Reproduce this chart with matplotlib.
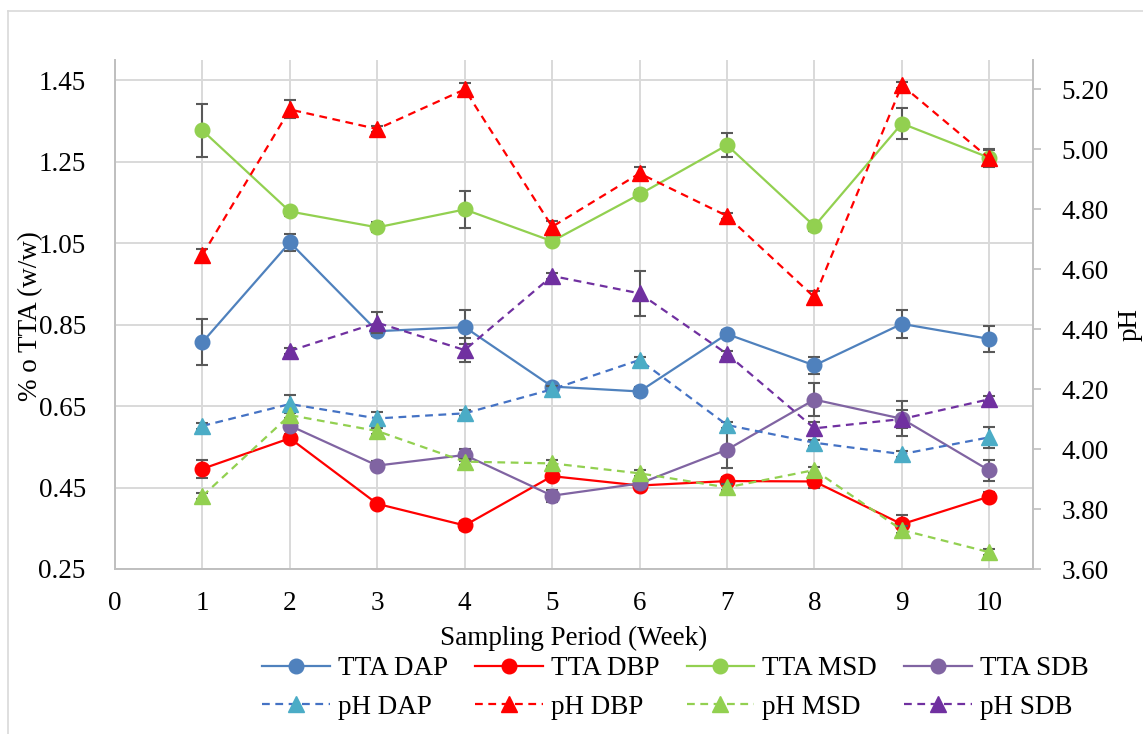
import matplotlib
matplotlib.use("Agg")
import matplotlib.pyplot as plt
import numpy as np
from matplotlib.lines import Line2D

plt.rcParams['font.family'] = ['Liberation Serif', 'DejaVu Serif']

# Sampling weeks
weeks = np.arange(1, 11)

# Titratable acidity, % (w/w)
tta_dap = [0.807, 1.052, 0.834, 0.844, 0.698, 0.686, 0.827, 0.750, 0.852, 0.815]
tta_dbp = [0.496, 0.571, 0.410, 0.357, 0.478, 0.455, 0.466, 0.465, 0.360, 0.428]
tta_msd = [1.327, 1.128, 1.089, 1.133, 1.055, 1.170, 1.291, 1.092, 1.344, 1.260]
tta_sdb = [np.nan, 0.602, 0.504, 0.530, 0.430, 0.460, 0.543, 0.666, 0.619, 0.492]

tta_dap_err = [0.056, 0.020, 0.012, 0.042, 0.010, 0.010, 0.010, 0.021, 0.035, 0.031]
tta_dbp_err = [0.022, 0.010, 0.010, 0.010, 0.010, 0.012, 0.010, 0.017, 0.022, 0.010]
tta_msd_err = [0.066, 0.010, 0.012, 0.046, 0.010, 0.010, 0.029, 0.012, 0.038, 0.020]
tta_sdb_err = [np.nan, 0.010, 0.010, 0.015, 0.015, 0.010, 0.046, 0.041, 0.043, 0.025]

# pH
ph_dap = [4.077, 4.150, 4.102, 4.119, 4.199, 4.297, 4.080, 4.021, 3.983, 4.039]
ph_dbp = [4.647, 5.132, 5.067, 5.199, 4.741, 4.919, 4.777, 4.506, 5.213, 4.969]
ph_msd = [3.843, 4.113, 4.060, 3.958, 3.952, 3.919, 3.872, 3.930, 3.730, 3.656]
ph_sdb = [np.nan, 4.327, 4.421, 4.330, 4.577, 4.519, 4.317, 4.069, 4.100, 4.166]

ph_dap_err = [0.010, 0.030, 0.020, 0.010, 0.010, 0.010, 0.010, 0.010, 0.010, 0.035]
ph_dbp_err = [0.020, 0.030, 0.010, 0.020, 0.020, 0.020, 0.010, 0.020, 0.010, 0.030]
ph_msd_err = [0.010, 0.010, 0.010, 0.010, 0.010, 0.010, 0.010, 0.010, 0.015, 0.010]
ph_sdb_err = [np.nan, 0.010, 0.035, 0.040, 0.010, 0.076, 0.010, 0.020, 0.030, 0.010]

left_ticks = [0.25, 0.45, 0.65, 0.85, 1.05, 1.25, 1.45]
right_ticks = [3.6, 3.8, 4.0, 4.2, 4.4, 4.6, 4.8, 5.0, 5.2]
x_ticks = list(range(0, 11))

W, H = 1143, 734
fig = plt.figure(figsize=(W / 100, H / 100), dpi=100)

# light outer frame of the chart area
fig.add_artist(Line2D([8 / W, 1.0], [1 - 11 / H, 1 - 11 / H], color='#D9D9D9', lw=1.2))
fig.add_artist(Line2D([8 / W, 8 / W], [0.0, 1 - 11 / H], color='#D9D9D9', lw=1.2))

rect = [115 / W, 1 - 569 / H, (1033 - 115) / W, (569 - 60) / H]
ax = fig.add_axes(rect)
ax2 = ax.twinx()

FS = 19.5
grid_c = '#D9D9D9'
spine_c = '#BFBFBF'
err_c = '#595959'

ax.set_xlim(0, 10.5)
ax.set_ylim(0.25, 1.5)
ax2.set_ylim(3.6, 5.297)
ax.set_xticks(x_ticks)
ax.set_yticks(left_ticks)
ax.set_yticklabels([f"{t:.2f}" for t in left_ticks])
ax2.set_yticks(right_ticks)
ax2.set_yticklabels([f"{t:.2f}" for t in right_ticks])

ax.grid(True, color=grid_c, lw=1.4)
ax.set_axisbelow(True)
for s in ['top', 'right']:
    ax.spines[s].set_visible(False)
for s in ['left', 'bottom']:
    ax.spines[s].set_color(spine_c)
    ax.spines[s].set_linewidth(1.4)
for s in ['top', 'left', 'bottom']:
    ax2.spines[s].set_visible(False)
ax2.spines['right'].set_color(spine_c)
ax2.spines['right'].set_linewidth(1.4)

ax.tick_params(axis='y', length=0, pad=21, labelsize=FS)
ax.tick_params(axis='x', length=0, pad=16, labelsize=FS)
ax2.tick_params(axis='y', length=5.5, width=1.2, color=spine_c, pad=15, labelsize=FS)

cap = 4.3
elw = 1.5
lw = 1.6
dash = (0, (3.5, 2.5))
ms_c = 10.5
ms_t = 11.5

tta_series = [
    ("TTA DAP", tta_dap, tta_dap_err, '#4F81BD', '#4F81BD'),
    ("TTA DBP", tta_dbp, tta_dbp_err, '#FF0000', '#FF0000'),
    ("TTA MSD", tta_msd, tta_msd_err, '#92D050', '#92D050'),
    ("TTA SDB", tta_sdb, tta_sdb_err, '#8064A2', '#8064A2'),
]
ph_series = [
    ("pH DAP", ph_dap, ph_dap_err, '#4472C4', '#4BACC6'),
    ("pH DBP", ph_dbp, ph_dbp_err, '#FF0000', '#FF0000'),
    ("pH MSD", ph_msd, ph_msd_err, '#92D050', '#92D050'),
    ("pH SDB", ph_sdb, ph_sdb_err, '#7030A0', '#7030A0'),
]

handles = {}
for name, vals, err, lc, mc in tta_series:
    v = np.array(vals, dtype=float)
    ax.errorbar(weeks, v, yerr=err, fmt='none', ecolor=err_c, elinewidth=elw,
                capsize=cap, capthick=elw, zorder=3)
    mask = ~np.isnan(v)
    h, = ax.plot(weeks[mask], v[mask], '-', color=lc, lw=lw, marker='o', ms=ms_c,
                 mfc=mc, mec=mc, zorder=4)
    handles[name] = h

for name, vals, err, lc, mc in ph_series:
    v = np.array(vals, dtype=float)
    ax2.errorbar(weeks, v, yerr=err, fmt='none', ecolor=err_c, elinewidth=elw,
                 capsize=cap, capthick=elw, zorder=3)
    mask = ~np.isnan(v)
    h, = ax2.plot(weeks[mask], v[mask], color=lc, lw=lw, linestyle=dash, marker='^',
                  ms=ms_t, mfc=mc, mec=mc, zorder=4)
    handles[name] = h

fig.text(31 / W, 1 - 316 / H, "% o TTA (w/w)", rotation=90, ha='center', va='center', fontsize=FS)
fig.text(1130 / W, 1 - 325 / H, "pH", rotation=90, ha='center', va='center', fontsize=FS)
fig.text(574 / W, 1 - 638 / H, "Sampling Period (Week)", ha='center', va='center', fontsize=FS)

order = ["TTA DAP", "pH DAP", "TTA DBP", "pH DBP", "TTA MSD", "pH MSD", "TTA SDB", "pH SDB"]
fig.legend([handles[k] for k in order], order, ncol=4, loc='upper left',
           bbox_to_anchor=(262 / W, 1 - 656 / H), frameon=False, fontsize=FS,
           handlelength=2.5, handletextpad=0.3, columnspacing=1.0,
           labelspacing=0.5, borderpad=0, borderaxespad=0, numpoints=1)

fig.savefig("out.png", dpi=100)
